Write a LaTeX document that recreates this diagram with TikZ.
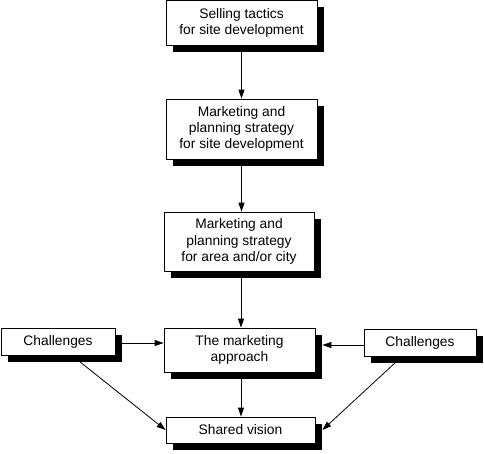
\documentclass[tikz,border=0pt]{standalone}
\usepackage{fontspec}
\setmainfont{Liberation Sans}
\usetikzlibrary{arrows.meta, shadows}

\begin{document}
\begin{tikzpicture}[x=1pt, y=-1pt]

    \useasboundingbox (0,0) rectangle (484,453);

    % Boxes
    \tikzstyle{shadow box} = [rectangle, draw, fill=white, line width=0.8pt,
        align=center, inner sep=0pt,
        font=\fontsize{13.8}{16.2}\selectfont,
        drop shadow={shadow xshift=6.5pt, shadow yshift=-6.5pt,
                     fill=black, opacity=1}];
    \tikzstyle{flow arrow} = [-{Triangle[length=9pt, width=6pt]}, line width=0.8pt];

    \node[shadow box, minimum width=151pt, minimum height=44.5pt] (tactics) at (241.5,22.8)
        {Selling tactics\\for site development};
    \node[shadow box, minimum width=151pt, minimum height=60pt] (siteplan) at (241.5,129)
        {Marketing and\\planning strategy\\for site development};
    \node[shadow box, minimum width=150pt, minimum height=59pt] (cityplan) at (239,241.5)
        {Marketing and\\planning strategy\\for area and/or city};
    \node[shadow box, minimum width=151pt, minimum height=44pt] (approach) at (239.5,350)
        {The marketing\\approach};
    \node[shadow box, minimum width=114pt, minimum height=27pt] (chleft) at (58,341.5)
        {Challenges};
    \node[shadow box, minimum width=112pt, minimum height=27pt] (chright) at (420,342.5)
        {Challenges};
    \node[shadow box, minimum width=149pt, minimum height=26pt] (vision) at (240.5,430)
        {Shared vision};

    % Connectors
    \draw[flow arrow] (tactics.south) -- (tactics.south |- siteplan.north);
    \draw[flow arrow] (siteplan.south) -- (siteplan.south |- cityplan.north);
    \draw[flow arrow] ([xshift=2pt]cityplan.south) -- ([xshift=2pt]cityplan.south |- approach.north);
    \draw[flow arrow] ([xshift=1.5pt]approach.south) -- ([xshift=1.5pt]approach.south |- vision.north);

    \draw[flow arrow] ([shift={(6.5pt,-1.5pt)}]chleft.east)
        -- ([yshift=-1.5pt]chleft.east -| approach.west);
    \draw[flow arrow] ([yshift=-2.5pt]chright.west)
        -- ([shift={(7pt,-2.5pt)}]chright.west -| approach.east);

    \draw[flow arrow] ([shift={(22pt,-6.5pt)}]chleft.south) -- (vision.west);
    \draw[flow arrow] ([shift={(-25pt,-6.5pt)}]chright.south) -- ([xshift=7pt]vision.east);

\end{tikzpicture}
\end{document}
